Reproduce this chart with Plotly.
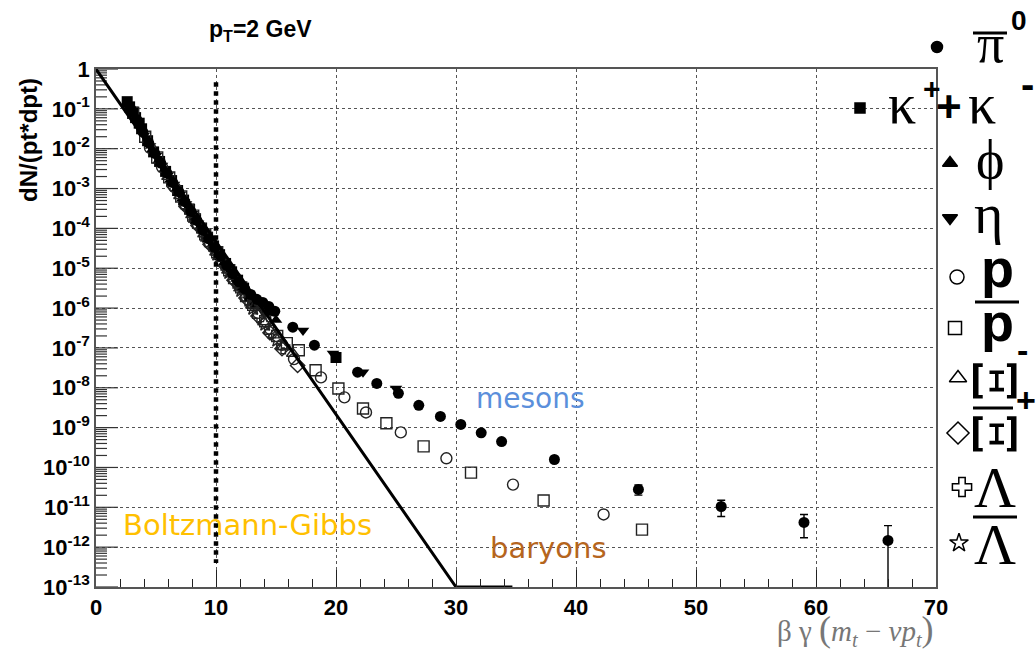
import numpy as np
import plotly.graph_objects as go

# Horizontal variable: beta*gamma*(m_t - v*p_t); yields kept as log10 of dN/(pt*dpt)

# pi0 (filled circles)
pi0_x = [2.9, 3.4, 3.9, 4.4, 4.9, 5.4, 5.9, 6.4, 6.9, 7.4, 7.9, 8.4, 8.9, 9.4, 9.9,
         10.4, 10.9, 11.4, 11.9, 12.4, 12.9, 13.4, 13.9, 14.4, 14.9, 16.4, 18.2, 21.8,
         23.4, 25.2, 26.9, 28.7, 30.4, 32.1, 33.8, 38.2, 45.2, 52.1, 59.0, 66.0]
pi0_lg = [-1.00, -1.27, -1.58, -1.86, -2.12, -2.36, -2.61, -2.85, -3.08, -3.33, -3.57,
          -3.80, -4.04, -4.26, -4.48, -4.70, -4.93, -5.14, -5.34, -5.52, -5.66, -5.78,
          -5.86, -5.96, -6.08, -6.48, -6.93, -7.61, -7.89, -8.14, -8.44, -8.72, -8.92,
          -9.13, -9.35, -9.80, -10.55, -10.98, -11.38, -11.83]
pi0_err = [0.0] * 36 + [8.0e-12, 4.6e-12, 2.45e-12, 2.0e-12]

# K+ + K- (filled squares)
k_x = [2.6, 2.8, 3.1, 3.3, 3.6, 3.8, 4.3, 4.8, 5.3, 5.8, 6.3, 6.8, 7.3, 7.8, 8.3, 8.8,
       9.3, 9.8, 10.3, 10.8, 11.3, 11.8, 12.3, 12.8, 13.3, 20.0]
k_lg = [-0.82, -0.95, -1.08, -1.22, -1.36, -1.50, -1.80, -2.08, -2.32, -2.57, -2.80,
        -3.05, -3.29, -3.52, -3.76, -3.99, -4.22, -4.44, -4.66, -4.88, -5.09, -5.30,
        -5.50, -5.70, -5.90, -7.24]

# phi (filled up-triangles)
phi_x = [4.7, 5.2, 5.7, 6.2, 6.7, 7.2, 7.7, 8.2, 8.7, 9.2, 9.7, 10.2, 10.7, 11.2, 11.7,
         12.2, 12.7, 13.2, 14.2, 15.0]
phi_lg = [-2.02, -2.30, -2.52, -2.78, -3.02, -3.25, -3.49, -3.72, -3.96, -4.18, -4.41,
          -4.62, -4.85, -5.06, -5.27, -5.48, -5.69, -5.88, -6.12, -6.30]

# eta (filled down-triangles)
eta_x = [3.5, 4.0, 4.5, 5.0, 5.5, 6.0, 6.5, 7.0, 7.5, 8.0, 8.5, 9.0, 9.5, 10.0, 10.5,
         11.0, 11.5, 12.0, 12.5, 13.0, 14.0, 17.25, 19.75, 22.25, 25.0]
eta_lg = [-1.38, -1.66, -1.93, -2.18, -2.42, -2.66, -2.90, -3.15, -3.39, -3.63, -3.87,
          -4.10, -4.33, -4.55, -4.78, -5.00, -5.21, -5.42, -5.62, -5.82, -6.12,
          -6.56, -7.14, -7.61, -8.02]

# p (open circles)
p_x = [4.5, 5.5, 6.5, 7.5, 8.5, 9.5, 10.5, 11.5, 12.5, 13.5, 14.5, 15.5, 16.5, 18.75,
       20.7, 22.5, 25.4, 29.2, 34.75, 42.3]
p_lg = [-1.98, -2.46, -2.95, -3.43, -3.91, -4.38, -4.83, -5.27, -5.70, -6.12, -6.52,
        -6.92, -7.28, -7.74, -8.24, -8.62, -9.12, -9.77, -10.43, -11.18]

# anti-p (open squares)
pbar_x = [3.1, 4.1, 5.1, 6.1, 7.1, 8.1, 9.1, 10.1, 11.1, 12.1, 13.1, 14.1, 15.1, 15.9,
          16.9, 18.3, 20.2, 22.25, 24.2, 27.3, 31.25, 37.3, 45.5]
pbar_lg = [-1.10, -1.70, -2.22, -2.72, -3.20, -3.68, -4.15, -4.60, -5.05, -5.48, -5.92,
           -6.33, -6.70, -6.88, -7.06, -7.56, -8.02, -8.52, -8.89, -9.47, -10.13, -10.83, -11.56]

# Xi- (open up-triangles)
xim_x = [6.0, 7.0, 8.0, 9.0, 10.0, 11.0, 12.0, 13.0, 14.0, 14.8, 15.6, 16.4]
xim_lg = [-2.70, -3.18, -3.66, -4.14, -4.60, -5.05, -5.50, -5.93, -6.35, -6.68, -6.98, -7.14]

# anti-Xi+ (open diamonds)
xip_x = [6.5, 7.5, 8.5, 9.5, 10.5, 11.5, 12.5, 13.5, 14.5, 15.5, 16.8]
xip_lg = [-2.95, -3.45, -3.93, -4.40, -4.85, -5.30, -5.75, -6.20, -6.62, -7.02, -7.44]

# Lambda (open crosses)
lam_x = [7.6, 8.6, 9.6, 10.6, 11.6, 12.6, 13.6, 14.6, 15.6]
lam_lg = [-3.45, -3.94, -4.40, -4.88, -5.33, -5.78, -6.20, -6.60, -6.98]

# anti-Lambda (open stars)
alam_x = [8.1, 9.1, 10.1, 11.1, 12.1, 13.1, 14.1, 15.1]
alam_lg = [-3.70, -4.17, -4.64, -5.10, -5.55, -6.00, -6.40, -6.80]

# Boltzmann-Gibbs reference line
bg_x = [0.0, 30.0, 34.7]
bg_lg = [0.0, -13.0, -13.0]

# vertical marker at p_T = 2 GeV
ref_x = [10.0, 10.0]
ref_lg = [-0.33, -12.4]

x_ticks = [0, 10, 20, 30, 40, 50, 60, 70]
y_exps = list(range(0, -14, -1))


def lin(lg):
    return np.power(10.0, np.asarray(lg, dtype=float))


# figure size and plot frame, in pixels
FW, FH = 1036, 651
L, R, T, B = 96, 936, 69, 587
X_LO, X_HI = 0, 70
Y_LO, Y_HI = -13, 0
PX_PER_X = (R - L) / (X_HI - X_LO)

fig = go.Figure()

# decade / sub-decade ticks along the inside of the left frame, in data units
tick_x, tick_y = [], []
for e in range(Y_LO, Y_HI + 1):
    for k in range(1, 10):
        v = k * 10.0 ** e
        if v > 10.0 ** Y_HI:
            break
        length = (22 if k == 1 else 11) / PX_PER_X
        tick_x += [X_LO, X_LO + length, None]
        tick_y += [v, v, None]
fig.add_trace(go.Scatter(x=tick_x, y=tick_y, mode="lines",
                         line=dict(color="#333", width=1.2),
                         hoverinfo="skip", showlegend=False))

open_line = dict(color="#222", width=1.4)
series = [
    (k_x, k_lg, "square", 11, dict(color="black", line=dict(width=0))),
    (phi_x, phi_lg, "triangle-up", 11, dict(color="black", line=dict(width=0))),
    (eta_x, eta_lg, "triangle-down", 11, dict(color="black", line=dict(width=0))),
    (p_x, p_lg, "circle-open", 11, dict(color="#222", line=open_line)),
    (pbar_x, pbar_lg, "square-open", 11, dict(color="#222", line=open_line)),
    (xim_x, xim_lg, "triangle-up-open", 11, dict(color="#222", line=open_line)),
    (xip_x, xip_lg, "diamond-open", 11, dict(color="#222", line=open_line)),
    (lam_x, lam_lg, "cross-open", 11, dict(color="#222", line=open_line)),
    (alam_x, alam_lg, "star-open", 11, dict(color="#222", line=open_line)),
]
for xs, lgs, sym, sz, mk in series:
    fig.add_trace(go.Scatter(x=xs, y=lin(lgs), mode="markers",
                             marker=dict(symbol=sym, size=sz, **mk), showlegend=False))

fig.add_trace(go.Scatter(
    x=pi0_x, y=lin(pi0_lg), mode="markers",
    marker=dict(symbol="circle", size=11, color="black"),
    error_y=dict(type="data", array=pi0_err, symmetric=True, color="black",
                 thickness=1.4, width=4),
    showlegend=False))

fig.add_trace(go.Scatter(x=bg_x, y=lin(bg_lg), mode="lines",
                         line=dict(color="black", width=3), cliponaxis=False,
                         showlegend=False))
fig.add_trace(go.Scatter(x=ref_x, y=lin(ref_lg), mode="lines",
                         line=dict(color="black", width=4.5, dash="dot"),
                         showlegend=False))

# species key markers, drawn on a pixel-unit overlay axis pair
key_px = [937, 860, 950, 950, 957, 955, 958, 958, 962, 959]
key_py = [47, 108, 163, 218, 277, 328, 378, 433, 487, 543]
key_sym = ["circle", "square", "triangle-up", "triangle-down", "circle-open", "square-open",
           "triangle-up-open", "diamond-open", "cross-open", "star-open"]
key_size = [11, 10, 13, 13, 14, 13, 15, 17, 16, 14]
fig.add_trace(go.Scatter(x=key_px, y=key_py, xaxis="x2", yaxis="y2", mode="markers",
                         cliponaxis=False, showlegend=False,
                         marker=dict(symbol=key_sym, size=key_size, color="black",
                                     opacity=1, line=dict(color="black", width=1.5))))

grid = dict(showgrid=True, gridcolor="#555", gridwidth=1, griddash="dot")
axis_line = dict(showline=True, mirror=True, linecolor="#555", linewidth=1.5, zeroline=False)
tick_font = dict(family="Liberation Sans", size=22, color="black")

fig.update_layout(
    xaxis=dict(domain=[L / FW, R / FW], anchor="y", range=[X_LO, X_HI], tickmode="array",
               tickvals=x_ticks, ticktext=[f"<b>{v}</b>" for v in x_ticks],
               tickfont=tick_font, ticks="inside", ticklen=17, tickwidth=1.3,
               tickcolor="#222", automargin=False,
               minor=dict(dtick=2, ticks="inside", ticklen=8, tickwidth=1.3,
                          tickcolor="#222", showgrid=False),
               **grid, **axis_line),
    yaxis=dict(domain=[1 - B / FH, 1 - T / FH], anchor="x", type="log", range=[Y_LO, Y_HI],
               tickmode="array", tickvals=[10.0 ** e for e in y_exps],
               ticktext=["<b>1</b>"] + [f"<b>10<sup>{e}</sup></b>" for e in y_exps[1:]],
               tickfont=tick_font, ticks="", automargin=False,
               **grid, **axis_line),
    xaxis2=dict(domain=[0, 1], anchor="y2", range=[0, FW], visible=False, automargin=False),
    yaxis2=dict(domain=[0, 1], anchor="x2", range=[FH, 0], visible=False, automargin=False),
)

ann = []


def text(t, x, y, size, family="Liberation Sans", color="black", angle=0,
         xanchor="center", yanchor="middle"):
    ann.append(dict(text=t, x=x, y=y, xref="x2", yref="y2", showarrow=False,
                    textangle=angle, xanchor=xanchor, yanchor=yanchor,
                    font=dict(family=family, size=size, color=color)))


serif = "Liberation Serif"

# titles
text("<b>p<sub>T</sub>=2 GeV</b>", 260, 30, 23)
text("<b>dN/(pt*dpt)</b>", 28, 140, 24, angle=-90)
text("β γ <span style='font-size:36px'>(</span><i>m<sub>t</sub></i> − <i>νp<sub>t</sub></i>"
     "<span style='font-size:36px'>)</span>", 936, 630, 29, family=serif, color="#777",
     xanchor="right")

# in-plot labels
text("mesons", 530, 398, 28, family="DejaVu Sans", color="#5b8fdb")
text("Boltzmann-Gibbs", 247, 525, 29, family="DejaVu Sans", color="#ffc000")
text("baryons", 548, 548, 29, family="DejaVu Sans", color="#b5651d")

# species key labels
text("π", 990, 44, 54, family=serif)
text("<b>0</b>", 1019, 20, 28)
text("κ", 902, 104, 56, family=serif)
text("<b>+</b>", 932, 88, 30)
text("<b>+</b>", 949, 106, 44)
text("κ", 982, 104, 56, family=serif)
text("<b>-</b>", 1027, 84, 40)
text("ϕ", 990, 160, 54, family=serif)
text("η", 988, 214, 56, family=serif)
text("<b>p</b>", 997, 268, 54)
text("<b>p</b>", 997, 322, 54)
text("Ξ", 994, 381, 60, family="DejaVu Serif", angle=90)
text("<b>-</b>", 1022, 350, 34)
text("<b>+</b>", 1026, 400, 34)
text("Ξ", 994, 434, 60, family="DejaVu Serif", angle=90)
text("Λ", 995, 487, 58, family=serif)
text("Λ", 995, 544, 58, family=serif)

# bars over the antiparticle symbols
bars = [(973, 1007, 33), (975, 1019, 302), (973, 1013, 408), (973, 1017, 517)]
shapes = [dict(type="line", xref="x2", yref="y2", x0=a, x1=b, y0=c, y1=c,
               line=dict(color="black", width=3)) for a, b, c in bars]

fig.update_layout(width=FW, height=FH,
                  margin=dict(l=0, r=0, t=0, b=0, pad=0, autoexpand=False),
                  paper_bgcolor="white", plot_bgcolor="rgba(0,0,0,0)", showlegend=False,
                  annotations=ann, shapes=shapes)

fig.write_html("out.html")
